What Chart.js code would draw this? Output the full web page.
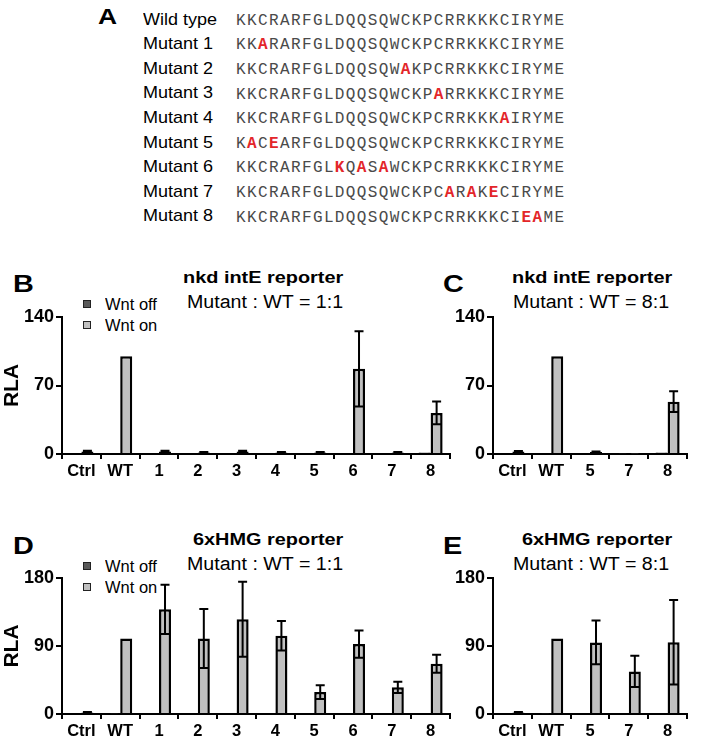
<!DOCTYPE html>
<html>
<head>
<meta charset="utf-8">
<script src="https://cdn.jsdelivr.net/npm/chart.js@4.4.1/dist/chart.umd.min.js"></script>
<style>
  html, body { margin: 0; padding: 0; background: #fff; }
  #root { position: relative; width: 702px; height: 748px; overflow: hidden; background: #fff; }
  .t { position: absolute; white-space: nowrap; line-height: 1; font-family: 'Liberation Sans', Arial, sans-serif; color: #000; transform-origin: 0 0; }
  .seq { position: absolute; white-space: nowrap; line-height: 1; font-family: 'Liberation Mono', 'Courier New', monospace; font-size: 16px; letter-spacing: 1.38px; color: #4a4a4a; }
  .seq b { color: #e3262a; font-weight: bold; }
  .sq { position: absolute; width: 6px; height: 6px; border: 1px solid #222; }
  canvas { position: absolute; }
</style>
</head>
<body>
<div id="root">
  <div class="t" style="left:98px;top:6px;font-size:22px;font-weight:bold;transform:scaleX(1.2)">A</div>

  <div class="t" style="left:13px;top:271.7px;font-size:24px;font-weight:bold;transform:scaleX(1.2)">B</div>
  <div class="t" style="left:443px;top:271.7px;font-size:24px;font-weight:bold;transform:scaleX(1.2)">C</div>
  <div class="t" style="left:13px;top:533.7px;font-size:24px;font-weight:bold;transform:scaleX(1.2)">D</div>
  <div class="t" style="left:443px;top:533.7px;font-size:24px;font-weight:bold;transform:scaleX(1.2)">E</div>

  <div class="t" style="left:183px;top:268.9px;font-size:17px;font-weight:bold;transform:scaleX(1.17)">nkd intE reporter</div>
  <div class="t" style="left:512px;top:268.9px;font-size:17px;font-weight:bold;transform:scaleX(1.17)">nkd intE reporter</div>
  <div class="t" style="left:193px;top:530.9px;font-size:17px;font-weight:bold;transform:scaleX(1.17)">6xHMG reporter</div>
  <div class="t" style="left:522px;top:530.9px;font-size:17px;font-weight:bold;transform:scaleX(1.17)">6xHMG reporter</div>

  <div class="t" style="left:187px;top:293.1px;font-size:18px;transform:scaleX(1.09)">Mutant : WT = 1:1</div>
  <div class="t" style="left:513px;top:293.1px;font-size:18px;transform:scaleX(1.09)">Mutant : WT = 8:1</div>
  <div class="t" style="left:187px;top:555.1px;font-size:18px;transform:scaleX(1.09)">Mutant : WT = 1:1</div>
  <div class="t" style="left:513px;top:555.1px;font-size:18px;transform:scaleX(1.09)">Mutant : WT = 8:1</div>

  <div class="sq" style="left:83px;top:300px;background:#5a5a5a"></div>
  <div class="t" style="left:105px;top:296.5px;font-size:16px;transform:scaleX(1.03)">Wnt off</div>
  <div class="sq" style="left:83px;top:321px;background:#c0c0c0"></div>
  <div class="t" style="left:105px;top:318.2px;font-size:16px;transform:scaleX(1.03)">Wnt on</div>

  <div class="sq" style="left:83px;top:562px;background:#5a5a5a"></div>
  <div class="t" style="left:105px;top:558.5px;font-size:16px;transform:scaleX(1.03)">Wnt off</div>
  <div class="sq" style="left:83px;top:583px;background:#c0c0c0"></div>
  <div class="t" style="left:105px;top:580.2px;font-size:16px;transform:scaleX(1.03)">Wnt on</div>

  <canvas id="cB" width="460" height="190" style="left:0px;top:300px;width:460px;height:190px"></canvas>
  <canvas id="cC" width="272" height="190" style="left:430px;top:300px;width:272px;height:190px"></canvas>
  <canvas id="cD" width="460" height="187" style="left:0px;top:561px;width:460px;height:187px"></canvas>
  <canvas id="cE" width="272" height="187" style="left:430px;top:561px;width:272px;height:187px"></canvas>
</div>
<script>
// ---------- Panel A: sequences ----------
const seqLabels = ['Wild type', 'Mutant 1', 'Mutant 2', 'Mutant 3', 'Mutant 4', 'Mutant 5', 'Mutant 6', 'Mutant 7', 'Mutant 8'];
const sequences = [
  'KKCRARFGLDQQSQWCKPCRRKKKCIRYME',
  'KKARARFGLDQQSQWCKPCRRKKKCIRYME',
  'KKCRARFGLDQQSQWAKPCRRKKKCIRYME',
  'KKCRARFGLDQQSQWCKPARRKKKCIRYME',
  'KKCRARFGLDQQSQWCKPCRRKKKAIRYME',
  'KACEARFGLDQQSQWCKPCRRKKKCIRYME',
  'KKCRARFGLKQASAWCKPCRRKKKCIRYME',
  'KKCRARFGLDQQSQWCKPCARAKECIRYME',
  'KKCRARFGLDQQSQWCKPCRRKKKCIEAME'
];
const mutPositions = [[], [3], [16], [19], [25], [2, 4], [10, 12, 14], [20, 22, 24], [27, 28]];

// ---------- Panels B-E: data ----------
const catsB = ['Ctrl', 'WT', '1', '2', '3', '4', '5', '6', '7', '8'];
const offB = [1, 1, 1, 1, 1, 1, 1, 1, 1, 1.5];
const onB = [2.5, 100, 2.5, 1.5, 2.5, 1.5, 1.5, 87, 1.5, 42];
const onErrB = [0.8, 0, 0.8, 0.5, 0.8, 0.5, 0.5, 38.5, 0.5, 11.7];

const catsC = ['Ctrl', 'WT', '5', '7', '8'];
const offC = [1, 1, 1, 0.5, 1.5];
const onC = [2.5, 100, 2, 0.5, 53.5];
const onErrC = [0.5, 0, 0.5, 0, 10.5];

const catsD = ['Ctrl', 'WT', '1', '2', '3', '4', '5', '6', '7', '8'];
const offD = [1, 0.5, 1, 1, 1, 1, 1, 1, 1, 1];
const onD = [2, 100, 138.5, 100, 125.5, 103.5, 29, 92.5, 35.3, 66.5];
const onErrD = [0.5, 0, 32.5, 39, 49.6, 19.6, 9.2, 18, 7.5, 12];

const catsE = ['Ctrl', 'WT', '5', '7', '8'];
const offE = [1, 0.5, 1, 1, 1];
const onE = [2, 100, 94.7, 56.4, 95];
const onErrE = [0.5, 0, 28.9, 20.7, 56];

const ticksNkd = [0, 70, 140];
const ticksHmg = [0, 90, 180];

// build panel A
(function () {
  const root = document.getElementById('root');
  seqLabels.forEach((lab, i) => {
    const base = 25 + 24.6 * i;
    const l = document.createElement('div');
    l.className = 't';
    l.style.cssText = `left:143px;top:${base - 14.4}px;font-size:17px;transform:scaleX(1.06)`;
    l.textContent = lab;
    root.appendChild(l);
    const s = document.createElement('div');
    s.className = 'seq';
    s.style.cssText = `left:236px;top:${base - 12.26}px`;
    const seq = sequences[i];
    const muts = mutPositions[i];
    for (let k = 0; k < seq.length; k++) {
      if (muts.includes(k + 1)) {
        const b = document.createElement('b');
        b.textContent = seq[k];
        s.appendChild(b);
      } else {
        s.appendChild(document.createTextNode(seq[k]));
      }
    }
    root.appendChild(s);
  });
})();

const errorBars = {
  id: 'errorBars',
  afterDatasetsDraw(chart) {
    const ctx = chart.ctx;
    const ys = chart.scales.y;
    chart.data.datasets.forEach((ds, i) => {
      if (!ds.errors) return;
      const meta = chart.getDatasetMeta(i);
      meta.data.forEach((bar, j) => {
        const e = ds.errors[j];
        if (!e) return;
        const v = ds.data[j];
        const yt = ys.getPixelForValue(v + e);
        const yb = ys.getPixelForValue(Math.max(0, v - e));
        ctx.save();
        ctx.strokeStyle = '#000';
        ctx.lineWidth = 2;
        ctx.beginPath();
        ctx.moveTo(bar.x, yt); ctx.lineTo(bar.x, yb);
        ctx.moveTo(bar.x - 4.5, yt); ctx.lineTo(bar.x + 4.5, yt);
        ctx.moveTo(bar.x - 4.5, yb); ctx.lineTo(bar.x + 4.5, yb);
        ctx.stroke();
        ctx.restore();
      });
    });
  }
};

const FONT = "'Liberation Sans', Arial, sans-serif";

function makeChart(id, cats, off, on, onErr, yTicks, showTitle, yWidth, xHeight, padRight) {
  const yMax = yTicks[yTicks.length - 1];
  const step = yTicks[1] - yTicks[0];
  return new Chart(document.getElementById(id), {
    type: 'bar',
    data: {
      labels: cats,
      datasets: [
        { label: 'Wnt off', data: off, backgroundColor: '#5a5a5a', borderColor: '#000', borderWidth: 2.5, barPercentage: 1, categoryPercentage: 0.62 },
        { label: 'Wnt on', data: on, errors: onErr, backgroundColor: '#c0c0c0', borderColor: '#000', borderWidth: 2.5, barPercentage: 1, categoryPercentage: 0.62 }
      ]
    },
    options: {
      responsive: false,
      animation: false,
      devicePixelRatio: 1,
      layout: { padding: { top: 17, right: padRight, bottom: 0, left: 0 } },
      plugins: { legend: { display: false }, tooltip: { enabled: false }, title: { display: false } },
      scales: {
        x: {
          grid: { offset: true, drawOnChartArea: false, drawTicks: true, tickLength: 5, color: '#000', lineWidth: 2 },
          border: { display: true, color: '#000', width: 2 },
          ticks: { color: '#000', font: { family: FONT, size: 16.5, weight: 'bold' }, padding: 3, maxRotation: 0, autoSkip: false },
          afterFit: s => { s.height = xHeight; }
        },
        y: {
          min: 0, max: yMax,
          grid: { drawOnChartArea: false, drawTicks: true, tickLength: 6, color: '#000', lineWidth: 2 },
          border: { display: true, color: '#000', width: 2 },
          ticks: { stepSize: step, color: '#000', font: { family: FONT, size: 18, weight: 'bold' }, padding: 2 },
          title: { display: showTitle, text: 'RLA', color: '#000', font: { family: FONT, size: 21, weight: 'bold' }, padding: 0 },
          afterFit: s => { s.width = yWidth; }
        }
      }
    },
    plugins: [errorBars]
  });
}

makeChart('cB', catsB, offB, onB, onErrB, ticksNkd, true, 62, 36, 10);
makeChart('cC', catsC, offC, onC, onErrC, ticksNkd, false, 63, 36, 15);
makeChart('cD', catsD, offD, onD, onErrD, ticksHmg, true, 62, 34, 10);
makeChart('cE', catsE, offE, onE, onErrE, ticksHmg, false, 63, 34, 15);
</script>
</body>
</html>
